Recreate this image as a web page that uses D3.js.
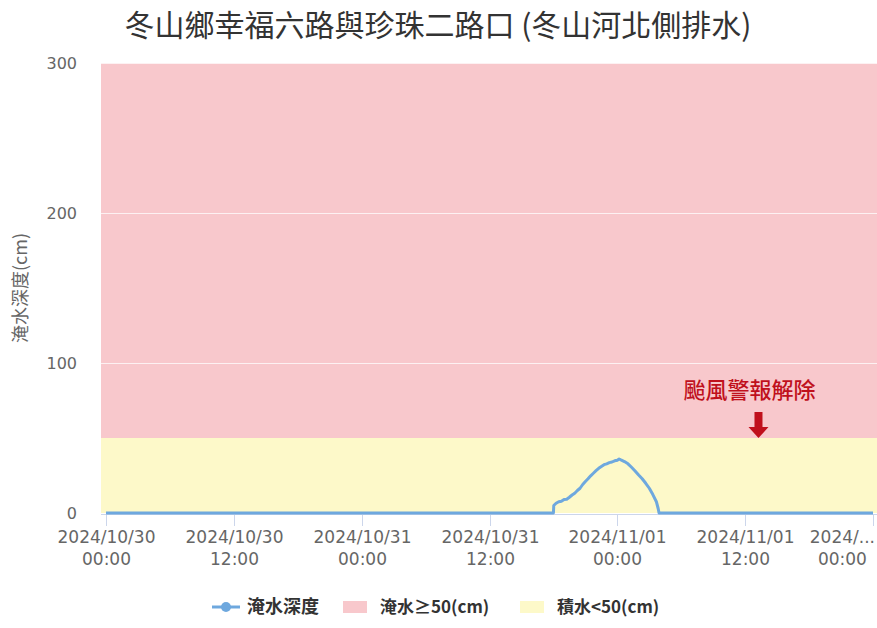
<!DOCTYPE html>
<html><head><meta charset="utf-8">
<script src="https://cdn.jsdelivr.net/npm/d3@7"></script>
<style>body{margin:0;background:#fff}svg{display:block}</style>
</head><body><svg id="c" width="877" height="628"></svg>
<script>
const title = "冬山鄉幸福六路與珍珠二路口 (冬山河北側排水)";
const yTitle = "淹水深度(cm)";
const seriesName = "淹水深度";
const times = ["2024-10-30 00:00","2024-10-31 18:00","2024-10-31 18:02","2024-10-31 18:15","2024-10-31 18:30","2024-10-31 18:45","2024-10-31 19:00","2024-10-31 19:15","2024-10-31 19:30","2024-10-31 19:45","2024-10-31 20:00","2024-10-31 20:15","2024-10-31 20:30","2024-10-31 20:45","2024-10-31 21:00","2024-10-31 21:15","2024-10-31 21:30","2024-10-31 21:45","2024-10-31 22:00","2024-10-31 22:15","2024-10-31 22:30","2024-10-31 22:45","2024-10-31 23:00","2024-10-31 23:15","2024-10-31 23:30","2024-10-31 23:45","2024-11-01 00:00","2024-11-01 00:10","2024-11-01 00:20","2024-11-01 00:40","2024-11-01 01:00","2024-11-01 01:20","2024-11-01 01:40","2024-11-01 02:00","2024-11-01 02:20","2024-11-01 02:40","2024-11-01 03:00","2024-11-01 03:20","2024-11-01 03:40","2024-11-01 03:50","2024-11-01 03:55","2024-11-02 00:00"];
const depths = [0,0,5,6.5,7.5,7.8,9,9.2,10.5,12,13.2,15,16.5,19,21,22.8,24.8,26.5,28.2,29.8,31,32.2,32.8,33.6,34,34.8,35.2,36,35.4,34.3,32.8,30.5,28,25.3,22.8,19.8,16.5,12.3,7.5,3,0,0];
const yTicks = [0,100,200,300];
const xTicks = ["2024-10-30 00:00","2024-10-30 12:00","2024-10-31 00:00","2024-10-31 12:00","2024-11-01 00:00","2024-11-01 12:00","2024-11-02 00:00"];
const bandLimits = [0,50,300];
const bandNames = ["積水<50(cm)","淹水≥50(cm)"];
const annotationText = "颱風警報解除";
const annotationTime = "2024-11-01 13:15";
const annotationLevel = 50;

const W=877,H=628;
const plot={left:101,right:877,top:63,bottom:513};
const parse=d3.timeParse("%Y-%m-%d %H:%M");
const font="DejaVu Sans, Noto Sans CJK TC, sans-serif";
const cjk="Noto Sans CJK TC, DejaVu Sans, sans-serif";
const svg=d3.select("#c");
const x=d3.scaleTime().domain([parse(xTicks[0]),parse(xTicks[xTicks.length-1])]).range([106,873]);
const y=d3.scaleLinear().domain([0,300]).range([plot.bottom,plot.top]);
const bandColors=["#fdf9c9","#f8c8cc"];
const lineColor="#6ea8de";

// bands
for(let i=0;i<bandLimits.length-1;i++){
  svg.append("rect").attr("x",plot.left).attr("width",plot.right-plot.left)
    .attr("y",y(bandLimits[i+1])).attr("height",y(bandLimits[i])-y(bandLimits[i+1]))
    .attr("fill",bandColors[i]);
}
// grid
svg.append("g").selectAll("line").data(yTicks.filter(d=>d>0)).join("line")
  .attr("x1",plot.left).attr("x2",plot.right).attr("y1",d=>Math.round(y(d))+0.5).attr("y2",d=>Math.round(y(d))+0.5)
  .attr("stroke","rgba(255,255,255,0.75)").attr("stroke-width",1);

// y axis labels
svg.append("g").selectAll("text").data(yTicks).join("text")
  .attr("x",77).attr("y",d=>y(d)+6).attr("text-anchor","end")
  .attr("font-family",font).attr("font-size",16).attr("fill","#666").text(d=>d);
svg.append("text").attr("transform","translate(27,288) rotate(-90)").attr("text-anchor","middle")
  .attr("font-family",cjk).attr("font-size",18).attr("fill","#666").text(yTitle);

// x axis
svg.append("line").attr("x1",plot.left).attr("x2",plot.right).attr("y1",514.5).attr("y2",514.5)
  .attr("stroke","#ccd6eb").attr("stroke-width",1);
const fmt1=d3.timeFormat("%Y/%m/%d"), fmt2=d3.timeFormat("%H:%M");
const xg=svg.append("g");
xTicks.map(parse).forEach(t=>{
  const px=Math.round(x(t))+0.5;
  xg.append("line").attr("x1",px).attr("x2",px).attr("y1",514).attr("y2",526).attr("stroke","#ccd6eb");
  const g=xg.append("g");
  const t1=g.append("text").attr("x",px).attr("y",543).attr("text-anchor","middle")
    .attr("font-family",font).attr("font-size",17).attr("fill","#666").text(fmt1(t));
  const t2=g.append("text").attr("x",px).attr("y",565).attr("text-anchor","middle")
    .attr("font-family",font).attr("font-size",17).attr("fill","#666").text(fmt2(t));
  // justify / ellipsis near the right edge
  const w1=t1.node().getComputedTextLength();
  if(px+w1/2>W-2){
    const full=fmt1(t);
    let n=full.length;
    const maxW=66;
    while(n>1 && t1.node().getComputedTextLength()>maxW){n--;t1.text(full.slice(0,n)+"...");}
    const cx=W-2-t1.node().getComputedTextLength()/2;
    t1.attr("x",cx); t2.attr("x",cx);
  }
});

// series
const pts=times.map((t,i)=>[parse(t),depths[i]]);
svg.append("path").datum(pts).attr("fill","none").attr("stroke",lineColor).attr("stroke-width",3)
  .attr("stroke-linejoin","round").attr("d",d3.line().x(d=>x(d[0])).y(d=>y(d[1])));

// annotation
const ax=x(parse(annotationTime)), ay=y(annotationLevel);
svg.append("text").attr("x",ax-9).attr("y",ay-40).attr("text-anchor","middle")
  .attr("font-family",cjk).attr("font-size",22).attr("font-weight",500).attr("fill","#c0101c").text(annotationText);
svg.append("path").attr("fill","#c0101c")
  .attr("d",`M${ax-4},${ay-26}L${ax+4},${ay-26}L${ax+4},${ay-11}L${ax+10},${ay-11}L${ax},${ay}L${ax-10},${ay-11}L${ax-4},${ay-11}Z`);

// title
svg.append("text").attr("x",438).attr("y",36).attr("text-anchor","middle")
  .attr("font-family",cjk).attr("font-size",30).attr("fill","#333").text(title);

// legend
const lg=svg.append("g").attr("font-family",cjk).attr("font-size",17).attr("font-weight","bold").attr("fill","#333");
lg.append("line").attr("x1",212).attr("x2",240).attr("y1",607).attr("y2",607).attr("stroke",lineColor).attr("stroke-width",3);
lg.append("circle").attr("cx",226).attr("cy",607).attr("r",5).attr("fill",lineColor);
lg.append("text").attr("x",247).attr("y",613).attr("font-size",18).text(seriesName);
lg.append("rect").attr("x",343).attr("y",601).attr("width",24).attr("height",12).attr("fill",bandColors[1]);
lg.append("text").attr("x",380).attr("y",613).text(bandNames[1]);
lg.append("rect").attr("x",520).attr("y",601).attr("width",24).attr("height",12).attr("fill",bandColors[0]);
lg.append("text").attr("x",557).attr("y",613).text(bandNames[0]);
</script></body></html>
